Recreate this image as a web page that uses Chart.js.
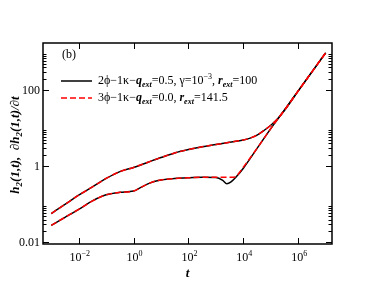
<!DOCTYPE html>
<html>
<head>
<meta charset="utf-8">
<script src="https://cdn.jsdelivr.net/npm/chart.js@4.4.1/dist/chart.umd.min.js"></script>
<style>
  body { margin: 0; background: #fff; }
</style>
</head>
<body>
<canvas id="chart" width="374" height="289"></canvas>
<script>
// upper curve (same for both models)
const tUpper = [1e-3, 3.16e-3, 1e-2, 3.16e-2, 0.1, 0.316, 1, 3.16, 10, 31.6, 100, 316, 1000, 3160,
  1e4, 1.78e4, 3.16e4, 5.62e4, 1e5, 1.78e5, 3.16e5, 1e6, 3.16e6, 1e7];
const upper2 = [0.0575, 0.1, 0.174, 0.288, 0.479, 0.724, 0.933, 1.26, 1.70, 2.24, 2.75, 3.24, 3.72, 4.27,
  4.90, 5.50, 6.61, 8.71, 12.0, 17.8, 29.5, 95.5, 302, 955];
const upper3 = upper2;

// lower curve, 2phi model (black, with dip)
const tLower2 = [1e-3, 3.16e-3, 1e-2, 3.16e-2, 0.1, 0.316, 1, 1.78, 3.16, 5.62, 10, 31.6, 100, 316,
  1000, 1780, 2510, 3550, 5620, 1e4, 3.16e4, 1e5, 3.16e5, 1e6, 3.16e6, 1e7];
const lower2 = [0.0282, 0.0457, 0.0741, 0.123, 0.178, 0.207, 0.224, 0.275, 0.339, 0.398, 0.437, 0.479, 0.501, 0.513,
  0.507, 0.427, 0.347, 0.389, 0.537, 0.891, 2.95, 9.77, 30.2, 95.5, 302, 955];

// lower curve, 3phi model (red dashed, no dip)
const tLower3 = [1e-3, 3.16e-3, 1e-2, 3.16e-2, 0.1, 0.316, 1, 1.78, 3.16, 5.62, 10, 31.6, 100, 316,
  1000, 1780, 3160, 5250, 7080, 1e4, 3.16e4, 1e5, 3.16e5, 1e6, 3.16e6, 1e7];
const lower3 = [0.0282, 0.0457, 0.0741, 0.123, 0.178, 0.207, 0.224, 0.275, 0.339, 0.398, 0.437, 0.479, 0.501, 0.513,
  0.513, 0.513, 0.513, 0.525, 0.68, 0.95, 2.95, 9.77, 30.2, 95.5, 302, 955];

const xMajor = [1e-2, 1, 1e2, 1e4, 1e6];
const xLabels = ["-2", "0", "2", "4", "6"];
const yMajor = [0.01, 1, 100];
const yLabels = ["0.01", "1", "100"];

const pts = (ts, ys) => ts.map((t, i) => ({ x: t, y: ys[i] }));

const SERIF = '"Liberation Serif", "Times New Roman", serif';
const N = '12px ' + SERIF;
const S = '8px ' + SERIF;
const BI = 'italic bold 12px ' + SERIF;
const SBI = 'italic bold 8px ' + SERIF;
const T = 'italic bold 13px ' + SERIF;
const ST = 'italic bold 9px ' + SERIF;

function rich(ctx, parts, x, y, align) {
  let w = 0;
  parts.forEach(p => { ctx.font = p[1]; p.w = ctx.measureText(p[0]).width; w += p.w; });
  let cx = align === "center" ? x - w / 2 : align === "right" ? x - w : x;
  parts.forEach(p => {
    ctx.font = p[1];
    ctx.fillText(p[0], cx, y + (p[2] || 0));
    cx += p.w;
  });
}

const decor = {
  id: "decor",
  afterDraw(chart) {
    const ctx = chart.ctx;
    const a = chart.chartArea;
    const xs = chart.scales.x, ys = chart.scales.y;
    ctx.save();
    ctx.fillStyle = "#000";
    ctx.strokeStyle = "#000";

    // ticks, pointing inward
    ctx.lineWidth = 1;
    ctx.beginPath();
    xMajor.forEach(v => {
      const px = Math.round(xs.getPixelForValue(v)) + 0.5;
      ctx.moveTo(px, a.bottom); ctx.lineTo(px, a.bottom - 6);
      ctx.moveTo(px, a.top); ctx.lineTo(px, a.top + 6);
    });
    yMajor.forEach(v => {
      const py = Math.round(ys.getPixelForValue(v)) + 0.5;
      ctx.moveTo(a.left, py); ctx.lineTo(a.left + 6, py);
      ctx.moveTo(a.right, py); ctx.lineTo(a.right - 6, py);
      for (let k = 2; k <= 9; k++) {
        const m = Math.round(ys.getPixelForValue(v * k)) + 0.5;
        if (m < a.top) continue;
        ctx.moveTo(a.left, m); ctx.lineTo(a.left + 3.5, m);
        ctx.moveTo(a.right, m); ctx.lineTo(a.right - 3.5, m);
      }
    });
    ctx.stroke();

    // frame
    ctx.lineWidth = 1.5;
    ctx.strokeRect(a.left, a.top, a.right - a.left, a.bottom - a.top);

    // tick labels
    ctx.textBaseline = "alphabetic";
    xMajor.forEach((v, i) => {
      rich(ctx, [["10", N], [xLabels[i] === "-2" ? "\u2212" + "2" : xLabels[i], S, -5]],
        xs.getPixelForValue(v) + 1, 261, "center");
    });
    yMajor.forEach((v, i) => {
      rich(ctx, [[yLabels[i], N]], 40, ys.getPixelForValue(v) + 4, "right");
    });

    // axis titles
    rich(ctx, [["t", T]], 187.5, 277, "center");
    ctx.save();
    ctx.translate(19, 145);
    ctx.rotate(-Math.PI / 2);
    rich(ctx, [["h", T], ["2", ST, 3], ["(1,t),  \u2202h", T], ["2", ST, 3], ["(1,t)/\u2202t", T]], 0, 0, "center");
    ctx.restore();

    // panel label and legend
    rich(ctx, [["(b)", N]], 62, 58);
    ctx.lineWidth = 1.5;
    ctx.beginPath(); ctx.moveTo(61, 81); ctx.lineTo(92, 81); ctx.stroke();
    ctx.strokeStyle = "#ff0000";
    ctx.setLineDash([6, 3]);
    ctx.beginPath(); ctx.moveTo(61, 98); ctx.lineTo(92, 98); ctx.stroke();
    ctx.setLineDash([]);
    rich(ctx, [["2\u03d5\u22121\u03ba\u2212", N], ["q", BI], ["ext", SBI, 3], ["=0.5, \u03b3=10", N],
      ["\u22123", S, -5], [", ", N], ["r", BI], ["ext", SBI, 3], ["=100", N]], 98, 84);
    rich(ctx, [["3\u03d5\u22121\u03ba\u2212", N], ["q", BI], ["ext", SBI, 3], ["=0.0, ", N],
      ["r", BI], ["ext", SBI, 3], ["=141.5", N]], 98, 101);
    ctx.restore();
  }
};

const line = (data, color, dash) => ({
  data,
  borderColor: color,
  borderWidth: 1.5,
  borderDash: dash,
  pointRadius: 0,
  fill: false,
  cubicInterpolationMode: "monotone"
});

new Chart(document.getElementById("chart"), {
  type: "line",
  data: {
    datasets: [
      line(pts(tUpper, upper3), "#ff0000", [6, 3]),
      line(pts(tLower3, lower3), "#ff0000", [6, 3]),
      line(pts(tUpper, upper2), "#000000", []),
      line(pts(tLower2, lower2), "#000000", [])
    ]
  },
  options: {
    responsive: false,
    animation: false,
    devicePixelRatio: 1,
    parsing: false,
    layout: { padding: { left: 43, top: 43, right: 42, bottom: 45 } },
    plugins: { legend: { display: false }, tooltip: { enabled: false } },
    scales: {
      x: { type: "logarithmic", min: 5e-4, max: 1.7e7, display: false },
      y: { type: "logarithmic", min: 0.0091, max: 1730, display: false }
    }
  },
  plugins: [decor]
});
</script>
</body>
</html>
